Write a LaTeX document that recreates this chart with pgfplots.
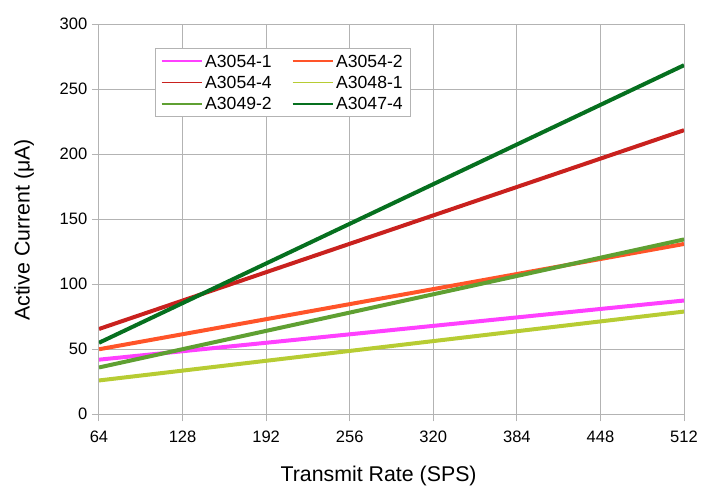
\documentclass[border=0pt]{standalone}
\usepackage{pgfplots}
\pgfplotsset{compat=1.18}
\usepackage{fontspec}
\setmainfont{Liberation Sans}
\definecolor{cMag}{HTML}{FF40FF}
\definecolor{cOra}{HTML}{FF5429}
\definecolor{cRed}{HTML}{C9211E}
\definecolor{cLime}{HTML}{B7CC33}
\definecolor{cGrn}{HTML}{5FA032}
\definecolor{cDkg}{HTML}{06701F}
\definecolor{gridgray}{HTML}{B3B3B3}
\begin{document}
\begin{tikzpicture}
\begin{axis}[
  scale only axis, width=438.75pt, height=292.5pt,
  xmin=64, xmax=512, ymin=0, ymax=300,
  xtick={64,128,...,512}, ytick={0,50,...,300},
  grid=major, grid style={draw=gridgray, line width=0.75pt},
  axis line style={draw=gridgray, line width=0.75pt},
  major tick style={draw=gridgray, line width=0.75pt},
  tick align=outside, tick pos=left, major tick length=5.25pt,
  /pgf/number format/assume math mode=true,
  ticklabel style={font=\fontsize{12.4}{14}\selectfont},
  xticklabel style={yshift=-4pt},
  xlabel={Transmit Rate (SPS)}, ylabel={Active Current (μA)},
  label style={font=\fontsize{16}{19}\selectfont},
  xlabel style={at={(rel axis cs:0.478,-0.1583)}, anchor=center},
  ylabel style={at={(rel axis cs:-0.1282,0.4726)}, anchor=center},
  legend columns=2,
  legend image code/.code={\draw[#1, line width=1.3pt] (0pt,0pt) -- (30pt,0pt);},
  legend style={at={(rel axis cs:0.0957,0.939)}, anchor=north west,
    draw=gridgray, line width=0.75pt, font=\fontsize{13.2}{15}\selectfont,
    inner xsep=4pt, inner ysep=1.5pt,
    nodes={inner xsep=2pt, inner ysep=3pt, text height=9.5pt, text depth=0.5pt},
    /tikz/every even column/.append style={column sep=13pt}},
  every axis plot/.append style={line width=3pt},
]
\addplot[cMag] coordinates {(64,42) (512,87.5)};
\addlegendentry{A3054-1}
\addplot[cOra] coordinates {(64,50) (512,131)};
\addlegendentry{A3054-2}
\addplot[cRed] coordinates {(64,65.6) (512,218.5)};
\addlegendentry{A3054-4}
\addplot[cLime] coordinates {(64,26) (512,79)};
\addlegendentry{A3048-1}
\addplot[cGrn] coordinates {(64,36) (512,134.5)};
\addlegendentry{A3049-2}
\addplot[cDkg] coordinates {(64,55) (512,268.5)};
\addlegendentry{A3047-4}
\end{axis}
\pgfresetboundingbox
\path ([shift={(-74.25pt,-66.5pt)}]current axis.south west) rectangle ([shift={(17.25pt,18.2pt)}]current axis.north east);
\end{tikzpicture}
\end{document}
